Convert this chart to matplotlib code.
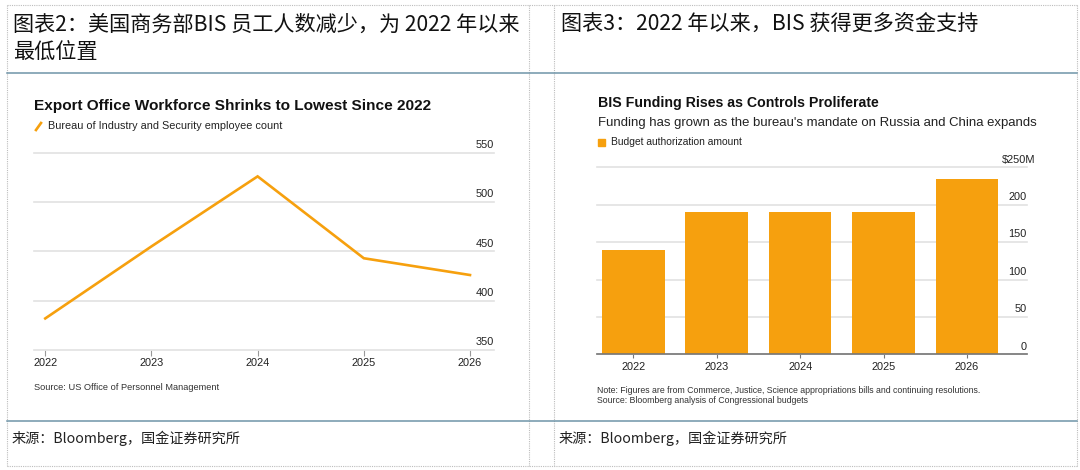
import matplotlib.pyplot as plt
from matplotlib.lines import Line2D
from matplotlib.patches import Rectangle

plt.rcParams['font.family'] = ['Liberation Sans', 'DejaVu Sans']

# left chart: BIS employee count
years = ['2022', '2023', '2024', '2025', '2026']
employees = [382, 455, 526, 443, 426]
emp_ticks = [350, 400, 450, 500, 550]

# right chart: budget authorization ($M)
budget = [140, 190, 190, 190, 234]
budget_ticks = [0, 50, 100, 150, 200, 250]
budget_labels = ['0', '50', '100', '150', '200', '$250M']

ORANGE = '#f6a00e'
GRID = '#e2e2e2'
CJK = ['Noto Sans CJK SC', 'DejaVu Sans']
W, H = 1080, 470


def fx(px):
    return px / W


def fy(py):
    return 1 - py / H


def box(left, top, right, bottom):
    return [fx(left), fy(bottom), (right - left) / W, (bottom - top) / H]


fig = plt.figure(figsize=(10.8, 4.7), dpi=100)

# table frame
dot = dict(color='#bdbdbd', lw=0.8, ls=(0, (1, 1)))
for x in [6.7, 529, 554, 1077]:
    fig.add_artist(Line2D([fx(x), fx(x)], [fy(5), fy(466)], **dot))
for y in [5, 466]:
    fig.add_artist(Line2D([fx(6.7), fx(1077)], [fy(y), fy(y)], **dot))
for y in [72.7, 420.7]:
    fig.add_artist(Line2D([fx(6.7), fx(1077)], [fy(y), fy(y)], color='#6f94a8', lw=1.1))

# header / footer texts
fig.text(fx(13), fy(25), '图表2：美国商务部BIS 员工人数减少，为 2022 年以来', family=CJK,
         fontsize=15.2, va='center', color='#111111')
fig.text(fx(13), fy(53), '最低位置', family=CJK, fontsize=15.2, va='center', color='#111111')
fig.text(fx(561), fy(25), '图表3：2022 年以来，BIS 获得更多资金支持', family=CJK,
         fontsize=15.2, va='center', color='#111111')
for x in [12, 559]:
    fig.text(fx(x), fy(438.5), '来源：Bloomberg，国金证券研究所', family=CJK,
             fontsize=10.2, va='center', color='#222222')

# ---- left: line chart
ax1 = fig.add_axes(box(34, 152.7, 494, 350))
ax1.plot(range(len(years)), employees, color=ORANGE, lw=1.9, solid_joinstyle='miter', zorder=3)
ax1.set_xlim(-0.106, 4.226)
ax1.set_ylim(350, 550)
ax1.set_yticks(emp_ticks)
ax1.set_yticklabels([])
ax1.grid(axis='y', color=GRID, lw=1.2)
for gl in ax1.get_ygridlines():
    gl.set_clip_on(False)
ax1.set_xticks(range(len(years)))
ax1.set_xticklabels(years, fontsize=7.9, color='#222222')
ax1.tick_params(axis='x', length=4, width=0.8, color='#999999', pad=1.5)
ax1.tick_params(axis='y', length=0)
for s in ax1.spines.values():
    s.set_visible(False)
for v in emp_ticks:
    ax1.annotate(str(v), xy=(1, v), xycoords=('axes fraction', 'data'),
                 xytext=(0, 2.0), textcoords='offset points',
                 ha='right', va='bottom', fontsize=7.9, color='#222222')

fig.text(fx(34), fy(106), 'Export Office Workforce Shrinks to Lowest Since 2022',
         fontsize=11.1, weight='bold', va='center', color='#111111')
fig.add_artist(Line2D([fx(36), fx(41)], [fy(130), fy(123)], color=ORANGE, lw=1.9))
fig.text(fx(48), fy(126), 'Bureau of Industry and Security employee count',
         fontsize=7.8, va='center', color='#222222')
fig.text(fx(34), fy(387), 'Source: US Office of Personnel Management',
         fontsize=6.7, va='center', color='#333333')

# ---- right: bar chart
ax2 = fig.add_axes(box(596.7, 167.3, 1027, 354.3))
ax2.bar(range(len(years)), budget, width=0.75, color=ORANGE, zorder=3)
ax2.set_xlim(-0.439, 4.72)
ax2.set_ylim(0, 250)
ax2.set_yticks(budget_ticks)
ax2.set_yticklabels([])
ax2.grid(axis='y', color=GRID, lw=1.2)
for gl in ax2.get_ygridlines():
    gl.set_clip_on(False)
ax2.set_xticks(range(len(years)))
ax2.set_xticklabels(years, fontsize=7.9, color='#222222')
ax2.tick_params(axis='x', length=3, width=0.8, color='#777777', pad=2.5)
ax2.tick_params(axis='y', length=0)
for s in ['top', 'left', 'right']:
    ax2.spines[s].set_visible(False)
ax2.spines['bottom'].set_color('#777777')
ax2.spines['bottom'].set_linewidth(1.2)
ax2.spines['bottom'].set_zorder(4)
for v, lab in zip(budget_ticks, budget_labels):
    dx = 5.8 if lab.endswith('M') else 0
    ax2.annotate(lab, xy=(1, v), xycoords=('axes fraction', 'data'),
                 xytext=(dx, 2.0), textcoords='offset points',
                 ha='right', va='bottom', fontsize=7.9, color='#222222')

fig.text(fx(597.7), fy(102.7), 'BIS Funding Rises as Controls Proliferate',
         fontsize=10.2, weight='bold', va='center', color='#111111')
fig.text(fx(597.7), fy(123.3), "Funding has grown as the bureau's mandate on Russia and China expands",
         fontsize=9.45, va='center', color='#222222')
fig.add_artist(Rectangle((fx(598), fy(146)), 7 / W, 7 / H, color=ORANGE, transform=fig.transFigure))
fig.text(fx(610.7), fy(142.3), 'Budget authorization amount',
         fontsize=7.4, va='center', color='#222222')
fig.text(fx(597), fy(390.7),
         'Note: Figures are from Commerce, Justice, Science appropriations bills and continuing resolutions.',
         fontsize=6.33, va='center', color='#333333')
fig.text(fx(597), fy(400.7), 'Source: Bloomberg analysis of Congressional budgets',
         fontsize=6.33, va='center', color='#333333')

fig.savefig('out.png', dpi=100)
